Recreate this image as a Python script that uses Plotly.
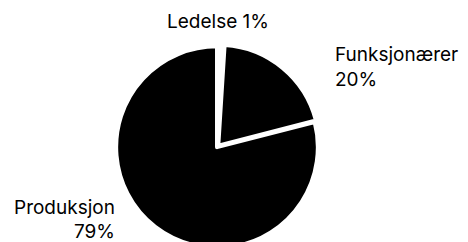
import plotly.graph_objects as go

labels = ["Ledelse", "Funksjonærer", "Produksjon"]
values = [1, 20, 79]
colors = ["#ffffff", "#000000", "#000000"]
pulls = [0, 0.02, 0]

fig = go.Figure(go.Pie(
    labels=labels, values=values, sort=False, direction="clockwise", rotation=0,
    marker=dict(colors=colors, line=dict(color="#ffffff", width=4)),
    pull=pulls, textinfo="none", hoverinfo="label+percent",
    domain=dict(x=[0.1966, 0.6966], y=[0.0, 0.85]),
    showlegend=False,
))

font = dict(family="Inter, Roboto, Arial, sans-serif", size=19, color="#000000")

def add(text, x, y, xanchor):
    fig.add_annotation(x=x, y=y, xref="paper", yref="paper", xanchor=xanchor, yanchor="top",
                       text=text, showarrow=False, font=font)

add(f"{labels[0]} {values[0]}%", 0.449, 1.0, "center")
add(labels[1], 0.6944, 0.8636, "left")
add(f"{values[1]}%", 0.6944, 0.7603, "left")
add(labels[2], 0.233, 0.23, "right")
add(f"{values[2]}%", 0.233, 0.1322, "right")

fig.update_layout(width=468, height=242, margin=dict(l=0, r=0, t=0, b=0),
                  paper_bgcolor="#ffffff", plot_bgcolor="#ffffff")
fig.write_html("out.html")
